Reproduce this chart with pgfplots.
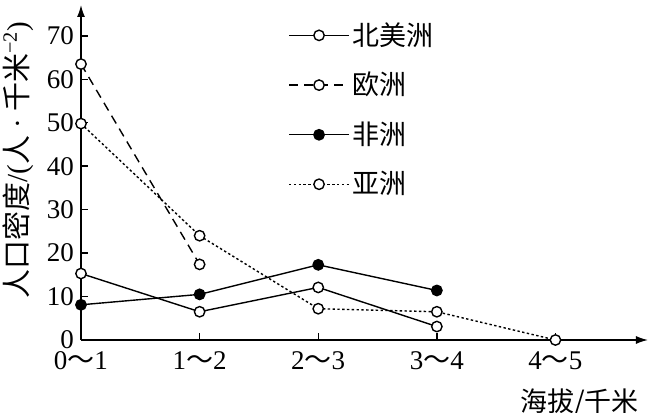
\documentclass[border=0pt]{standalone}
\usepackage{pgfplots}
\pgfplotsset{compat=1.18}
\usepackage{fontspec}
\setmainfont{Liberation Serif}
\newfontfamily\cjk{Noto Sans CJK SC}
\usetikzlibrary{arrows.meta}

% altitude band index vs population density
\pgfplotstableread{
x y
0 15.3
1 6.5
2 12.1
3 3.1
}\northamerica
\pgfplotstableread{
x y
0 63.5
1 17.4
}\europe
\pgfplotstableread{
x y
0 8.1
1 10.5
2 17.3
3 11.4
}\africa
\pgfplotstableread{
x y
0 49.8
1 24.0
2 7.2
3 6.5
4 0
}\asia

\newcommand{\wave}{\smash{\cjk ～}}

\begin{document}
\begin{tikzpicture}[font=\fontsize{13.5}{16}\selectfont]
\path[use as bounding box] (-40.5pt,-36.5pt) rectangle (284.5pt,170pt);
\begin{axis}[
    at={(0,0)}, anchor=origin,
    scale only axis, width=283.5pt, height=167.5pt,
    xmin=0, xmax=4.78, ymin=0, ymax=77.1,
    axis lines=left,
    axis line style={line width=0.7pt, -{Latex[length=6pt,width=4pt]}},
    clip=false,
    xtick={0,1,2,3,4},
    xticklabels={0\wave1,1\wave2,2\wave3,3\wave4,4\wave5},
    xticklabel style={yshift=-4.5pt, inner ysep=1pt},
    yticklabel style={inner ysep=0pt},
    ytick={0,10,...,70},
    tick align=inside,
    major tick length=3.5pt,
    tick style={line width=0.7pt, black},
    /pgf/number format/assume math mode=true,
    xlabel={\cjk 海拔/千米},
    xlabel style={at={(rel axis cs:1,0)}, anchor=north east, yshift=-21pt, xshift=-1pt},
    ylabel={{\cjk 人口密度}/({\cjk 人}\ ·\ {\cjk 千米}\textsuperscript{−2})},
    ylabel style={at={(rel axis cs:0,0.537)}, anchor=center, yshift=31.5pt,
        font=\fontsize{14.5}{17}\selectfont},
    legend cell align=left,
    legend image code/.code={
        \draw[mark repeat=2,mark phase=2] plot coordinates {(0pt,0pt)(15pt,0pt)(30pt,0pt)};
    },
    legend style={draw=none, fill=none, at={(rel axis cs:0.365,0.958)}, anchor=north west,
        row sep=9pt, inner sep=0pt, nodes={inner sep=1.5pt}},
    every axis plot/.append style={black, line width=0.7pt, mark size=2.6pt,
        mark options={solid}},
]
\addplot[solid, mark=*, mark options={fill=white}] table {\northamerica};
\addlegendentry{\cjk 北美洲}
\addplot[dash pattern=on 4.5pt off 3pt, mark=*, mark options={solid, fill=white}] table {\europe};
\addlegendentry{\cjk 欧洲}
\addplot[solid, mark=*, mark options={fill=black}] table {\africa};
\addlegendentry{\cjk 非洲}
\addplot[dash pattern=on 1.2pt off 1.2pt, mark=*, mark options={solid, fill=white}] table {\asia};
\addlegendentry{\cjk 亚洲}
\end{axis}
\end{tikzpicture}
\end{document}
